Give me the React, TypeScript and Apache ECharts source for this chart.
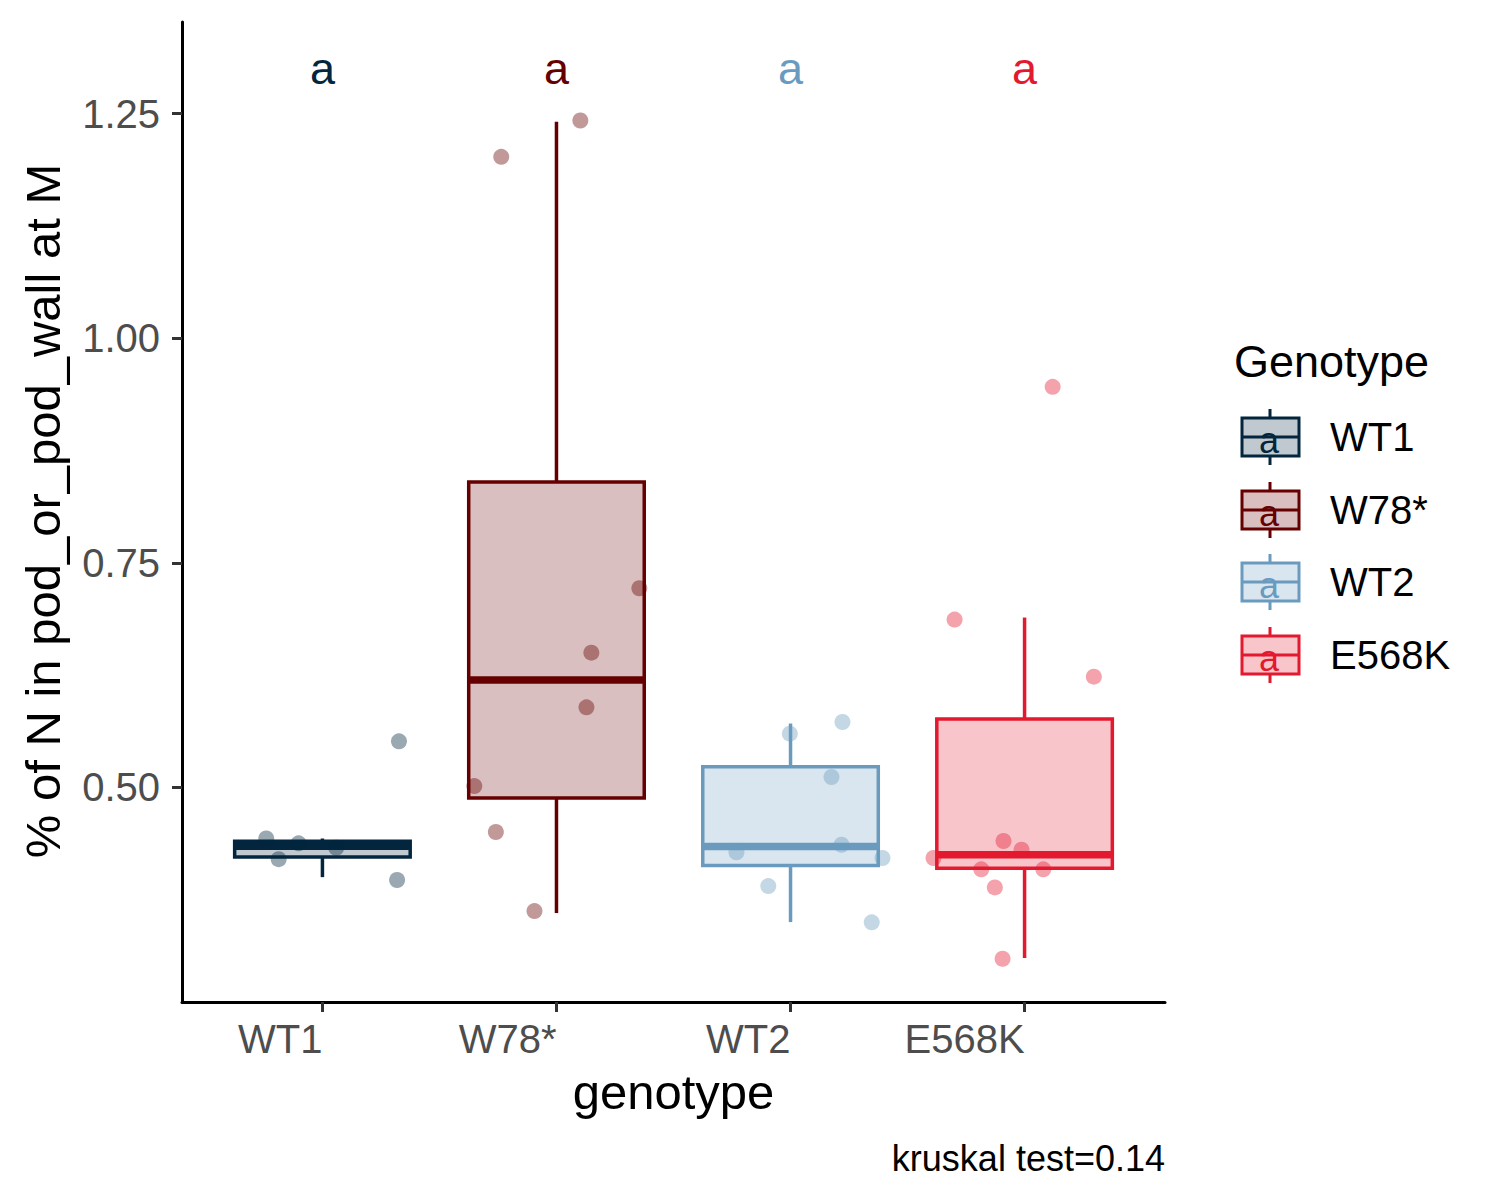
import React, { useEffect, useRef } from "react";
import * as echarts from "echarts";

const FONT = "'Liberation Sans', Arial, Helvetica, sans-serif";

const categories = ["WT1", "W78*", "WT2", "E568K"];
const colors = ["#03263E", "#660000", "#6A9BBF", "#E3192F"];
const fills = ["rgba(3,38,62,0.25)", "rgba(102,0,0,0.25)", "rgba(106,155,191,0.25)", "rgba(227,25,47,0.25)"];
const pointColors = ["rgba(3,38,62,0.5)", "rgba(102,0,0,0.5)", "rgba(106,155,191,0.5)", "rgba(227,25,47,0.5)"];

// box statistics (whisker low, Q1, median, Q3, whisker high)
const boxMin = [0.4, 0.36, 0.35, 0.31];
const boxQ1 = [0.4224, 0.488, 0.413, 0.41];
const boxMedian = [0.4345, 0.6195, 0.434, 0.425];
const boxQ3 = [0.44, 0.84, 0.523, 0.576];
const boxMax = [0.443, 1.241, 0.571, 0.689];

// jittered observations (value, horizontal jitter in category units)
const wt1Values = [0.443, 0.42, 0.4376, 0.4327, 0.5512, 0.3968];
const wt1Jitter = [-0.24, -0.187, -0.102, 0.059, 0.327, 0.319];
const w78Values = [1.2423, 1.2019, 0.7216, 0.6499, 0.589, 0.5014, 0.4502, 0.3622];
const w78Jitter = [0.102, -0.236, 0.354, 0.149, 0.128, -0.351, -0.259, -0.094];
const wt2Values = [0.5597, 0.5727, 0.5115, 0.4361, 0.4276, 0.4213, 0.39, 0.3497];
const wt2Jitter = [-0.003, 0.222, 0.175, 0.218, -0.231, 0.393, -0.095, 0.347];
const e568kValues = [0.6867, 0.6232, 0.4402, 0.4305, 0.4213, 0.4087, 0.4087, 0.3886, 0.3091, 0.9458];
const e568kJitter = [-0.299, 0.296, -0.09, -0.013, -0.389, -0.185, 0.08, -0.127, -0.094, 0.12];

const groupValues = [wt1Values, w78Values, wt2Values, e568kValues];
const groupJitter = [wt1Jitter, w78Jitter, wt2Jitter, e568kJitter];

const letters = ["a", "a", "a", "a"];
const letterY = 1.3;
const yTicks = [0.5, 0.75, 1.0, 1.25];
const xTicks = [1, 2, 3, 4];
const yMin = 0.261;
const yMax = 1.352;

export default function App() {
  const ref = useRef<HTMLDivElement>(null);
  useEffect(() => {
    document.body.style.margin = "0";
    const chart = echarts.init(ref.current!, null, { renderer: "svg" });

    const boxData = categories.map((_, i) => [i + 1, boxMin[i], boxQ1[i], boxMedian[i], boxQ3[i], boxMax[i]]);
    const pointData: any[] = [];
    groupValues.forEach((vals, g) => {
      vals.forEach((v, k) => {
        pointData.push({ value: [g + 1 + groupJitter[g][k], v], itemStyle: { color: pointColors[g] } });
      });
    });
    const letterData = categories.map((_, i) => [i + 1, letterY]);

    const legendItems: any[] = [];
    const keyCenters = [437, 510, 582, 655];
    categories.forEach((name, i) => {
      const cy = keyCenters[i];
      legendItems.push(
        { type: "line", shape: { x1: 1270, y1: cy - 28, x2: 1270, y2: cy - 19 }, style: { stroke: colors[i], lineWidth: 3 } },
        { type: "line", shape: { x1: 1270, y1: cy + 19, x2: 1270, y2: cy + 28 }, style: { stroke: colors[i], lineWidth: 3 } },
        { type: "rect", shape: { x: 1242, y: cy - 19, width: 57, height: 38 }, style: { fill: fills[i], stroke: colors[i], lineWidth: 3 } },
        { type: "line", shape: { x1: 1242, y1: cy, x2: 1299, y2: cy }, style: { stroke: colors[i], lineWidth: 3 } },
        { type: "text", x: 1269, y: cy + 3, style: { text: letters[i], fill: colors[i], fontSize: 36, fontFamily: FONT, align: "center", verticalAlign: "middle" } },
        { type: "text", x: 1330, y: cy, style: { text: name, fill: "#000", fontSize: 40, fontFamily: FONT, align: "left", verticalAlign: "middle" } }
      );
    });

    chart.setOption({
      animation: false,
      backgroundColor: "#fff",
      textStyle: { fontFamily: FONT },
      grid: { left: 182, top: 22, width: 983, height: 980, containLabel: false },
      xAxis: {
        type: "value",
        min: 0.4,
        max: 4.6,
        axisLine: { show: true, onZero: false, lineStyle: { color: "#000", width: 3 } },
        axisTick: { show: true, customValues: xTicks, length: 10, lineStyle: { color: "#333", width: 3 } },
        axisLabel: {
          customValues: xTicks,
          formatter: (v: number) => categories[Math.round(v) - 1] || "",
          align: "right",
          verticalAlign: "middle",
          margin: 37,
          fontSize: 40,
          color: "#4D4D4D",
          fontFamily: FONT,
        },
        splitLine: { show: false },
      },
      yAxis: {
        type: "value",
        min: yMin,
        max: yMax,
        axisLine: { show: true, onZero: false, lineStyle: { color: "#000", width: 3 } },
        axisTick: { show: true, customValues: yTicks, length: 10, lineStyle: { color: "#333", width: 3 } },
        axisLabel: {
          customValues: yTicks,
          formatter: (v: number) => v.toFixed(2),
          fontSize: 40,
          color: "#4D4D4D",
          margin: 22,
          fontFamily: FONT,
        },
        splitLine: { show: false },
      },
      series: [
        {
          type: "custom",
          clip: false,
          data: boxData,
          renderItem: (params: any, api: any) => {
            const i = params.dataIndex;
            const x = api.value(0);
            const w = api.size([0.75, 0])[0];
            const pMin = api.coord([x, api.value(1)]);
            const pQ1 = api.coord([x, api.value(2)]);
            const pMed = api.coord([x, api.value(3)]);
            const pQ3 = api.coord([x, api.value(4)]);
            const pMax = api.coord([x, api.value(5)]);
            const cx = pMed[0];
            const left = cx - w / 2;
            const c = colors[i];
            return {
              type: "group",
              children: [
                { type: "line", shape: { x1: cx, y1: pQ3[1], x2: cx, y2: pMax[1] }, style: { stroke: c, lineWidth: 3.5 } },
                { type: "line", shape: { x1: cx, y1: pQ1[1], x2: cx, y2: pMin[1] }, style: { stroke: c, lineWidth: 3.5 } },
                { type: "rect", shape: { x: left, y: pQ3[1], width: w, height: pQ1[1] - pQ3[1] }, style: { fill: fills[i], stroke: c, lineWidth: 3.5 } },
                { type: "line", shape: { x1: left, y1: pMed[1], x2: left + w, y2: pMed[1] }, style: { stroke: c, lineWidth: 7.5 } },
              ],
            };
          },
          z: 2,
        },
        {
          type: "scatter",
          data: pointData,
          symbolSize: 16,
          z: 3,
        },
        {
          type: "custom",
          clip: false,
          data: letterData,
          renderItem: (params: any, api: any) => {
            const p = api.coord([api.value(0), api.value(1)]);
            return {
              type: "text",
              x: p[0],
              y: p[1],
              style: { text: letters[params.dataIndex], fill: colors[params.dataIndex], fontSize: 45, fontFamily: FONT, align: "center", verticalAlign: "middle" },
            };
          },
          z: 4,
        },
      ],
      graphic: [
        { type: "text", x: 43, y: 511, rotation: Math.PI / 2, style: { text: "% of N in pod_or_pod_wall at M", fill: "#000", fontSize: 49, fontFamily: FONT, align: "center", verticalAlign: "middle" } },
        { type: "text", x: 673.5, y: 1092, style: { text: "genotype", fill: "#000", fontSize: 49, fontFamily: FONT, align: "center", verticalAlign: "middle" } },
        { type: "text", x: 1165, y: 1158, style: { text: "kruskal test=0.14", fill: "#000", fontSize: 36, fontFamily: FONT, align: "right", verticalAlign: "middle" } },
        { type: "text", x: 1234, y: 361, style: { text: "Genotype", fill: "#000", fontSize: 45, fontFamily: FONT, align: "left", verticalAlign: "middle" } },
        ...legendItems,
      ],
    });
    return () => chart.dispose();
  }, []);
  return <div ref={ref} style={{ width: 1500, height: 1200 }} />;
}
